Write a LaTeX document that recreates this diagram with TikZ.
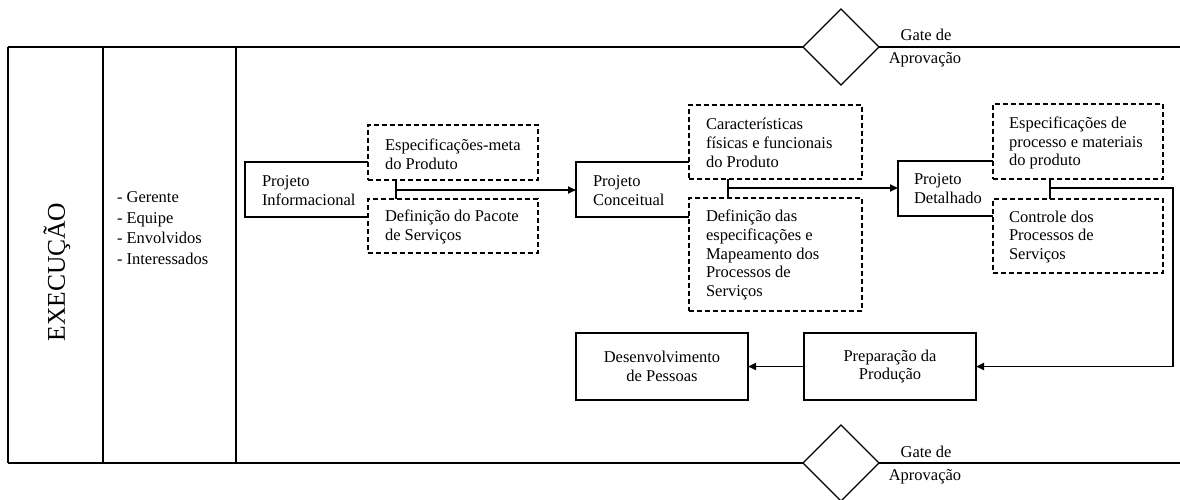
\documentclass[tikz,border=0pt]{standalone}
\usepackage{fontspec}
\setmainfont{Liberation Serif}
\usetikzlibrary{arrows.meta,shapes.geometric}

\begin{document}
\begin{tikzpicture}[x=1pt,y=-1pt,
  every node/.style={inner sep=0pt,outer sep=0pt},
  txt/.style={font=\fontsize{16.5}{18.8}\selectfont,align=left},
  ctxt/.style={font=\fontsize{16.5}{18.8}\selectfont,align=center},
  frameline/.style={line width=1.4pt},
  openbox/.style={line width=1.2pt},
  solidbox/.style={draw,line width=1.2pt},
  dashbox/.style={draw,line width=1.2pt,dash pattern=on 5pt off 3pt,fill=white},
  conn/.style={line width=1.8pt},
  arrowline/.style={conn,-{Triangle[length=8pt,width=7pt]}},
  gate/.style={draw,diamond,line width=1.2pt,fill=white,minimum width=76pt,minimum height=76pt}
]
\useasboundingbox (0,0) rectangle (1180,499);

% swimlane frame
\draw[frameline] (8,47) -- (1180,47);
\draw[frameline] (8,463) -- (1180,463);
\draw[frameline] (8,47) -- (8,463);
\draw[frameline] (103,47) -- (103,463);
\draw[frameline] (236,47) -- (236,463);

% lane header and roles
\node[rotate=90,font=\fontsize{25.5}{30}\selectfont] (lane) at (57,272) {EXECUÇÃO};
\node[anchor=west,font=\fontsize{16.5}{20.7}\selectfont,align=left] (roles) at (117,228)
  {- Gerente\\- Equipe\\- Envolvidos\\- Interessados};

% approval gates
\node[gate] (gtop) at (841,47) {};
\node[ctxt] (gtopa) at (926,35) {Gate de};
\node[ctxt] (gtopb) at (925,60) {Aprovação};
\node[gate] (gbot) at (841,463) {};
\node[ctxt] (gbota) at (926,452) {Gate de};
\node[ctxt] (gbotb) at (925,477) {Aprovação};

% stage boxes (open on the right side)
\node[minimum width=123pt,minimum height=55pt] (pi) at (306.5,189.5) {};
\draw[openbox] (pi.north east) -- (pi.north west) -- (pi.south west) -- (pi.south east);
\node[txt,anchor=west] (pit) at (262,191) {Projeto\\Informacional};

\node[minimum width=113pt,minimum height=55pt] (pc) at (632.5,189.5) {};
\draw[openbox] (pc.north east) -- (pc.north west) -- (pc.south west) -- (pc.south east);
\node[txt,anchor=west] (pct) at (593,191) {Projeto\\Conceitual};

\node[minimum width=95pt,minimum height=55pt] (pd) at (945.5,188.5) {};
\draw[openbox] (pd.north east) -- (pd.north west) -- (pd.south west) -- (pd.south east);
\node[txt,anchor=west] (pdt) at (914,189) {Projeto\\Detalhado};

% deliverables
\node[dashbox,minimum width=170pt,minimum height=55pt] (d1a) at (453,152.5) {};
\node[txt,anchor=west] (d1at) at (385,154) {Especificações-meta\\do Produto};
\node[dashbox,minimum width=170pt,minimum height=54pt] (d1b) at (453,226) {};
\node[txt,anchor=west] (d1bt) at (385,227) {Definição do Pacote\\de Serviços};

\node[dashbox,minimum width=173pt,minimum height=74pt] (d2a) at (775.5,142) {};
\node[txt,anchor=west] (d2at) at (706,143) {Características\\físicas e funcionais\\do Produto};
\node[dashbox,minimum width=173pt,minimum height=113pt] (d2b) at (775.5,254.5) {};
\node[txt,anchor=west] (d2bt) at (706,255) {Definição das\\especificações e\\Mapeamento dos\\Processos de\\Serviços};

\node[dashbox,minimum width=170pt,minimum height=75pt] (d3a) at (1078,141.5) {};
\node[txt,anchor=west] (d3at) at (1009,143) {Especificações de\\processo e materiais\\do produto};
\node[dashbox,minimum width=170pt,minimum height=74pt] (d3b) at (1078,236) {};
\node[txt,anchor=west] (d3bt) at (1009,237) {Controle dos\\Processos de\\Serviços};

% lower row
\node[solidbox,ctxt,minimum width=172pt,minimum height=67pt] (pp) at (890,366.5) {Preparação da\\Produção};
\node[solidbox,ctxt,minimum width=172pt,minimum height=67pt] (dp) at (662,366.5) {Desenvolvimento\\de Pessoas};

% junctions between paired deliverables
\coordinate (j1) at (396,190);
\coordinate (j2) at (728,188);
\coordinate (j3) at (1050,188);
\coordinate (c3) at (1173,188);

\draw[conn] (j1 |- d1a.south) -- (j1 |- d1b.north);
\draw[arrowline] (j1) -- (j1 -| pc.west);
\draw[conn] (j2 |- d2a.south) -- (j2 |- d2b.north);
\draw[arrowline] (j2) -- (j2 -| pd.west);
\draw[conn] (j3 |- d3a.south) -- (j3 |- d3b.north);
\draw[arrowline] (j3) -- (c3) |- (pp.east);
\draw[arrowline] (pp.west) -- (dp.east);
\end{tikzpicture}
\end{document}
